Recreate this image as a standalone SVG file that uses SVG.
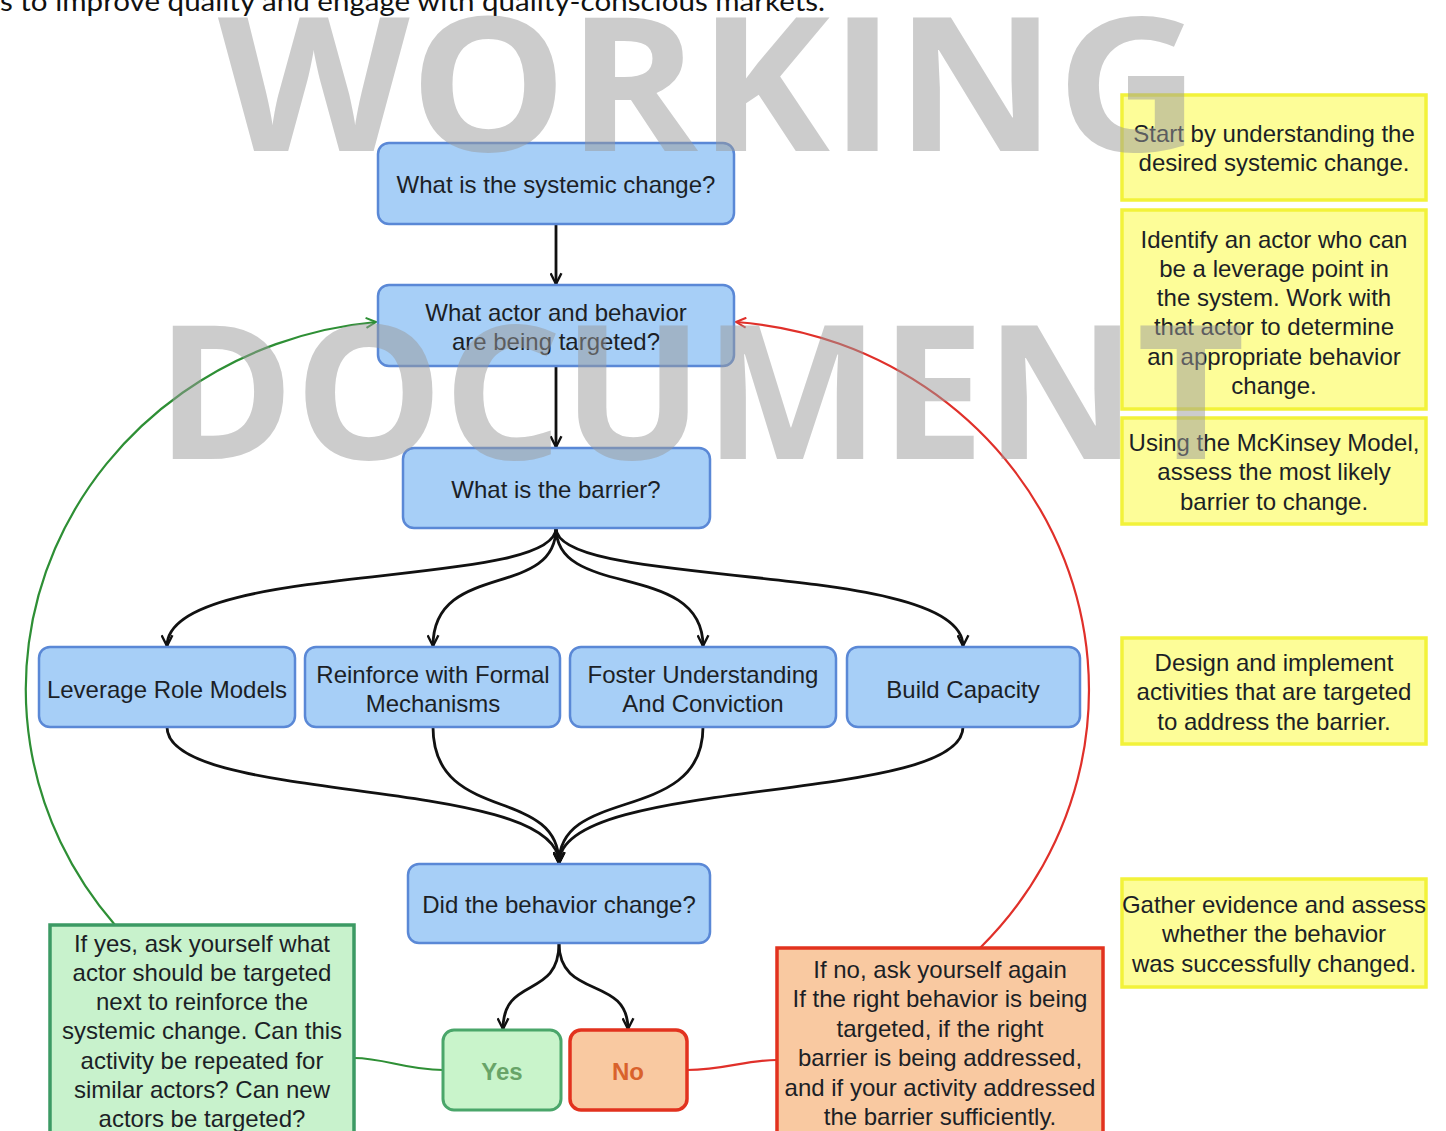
<svg xmlns="http://www.w3.org/2000/svg" width="1446" height="1131" viewBox="0 0 1446 1131">
  <style>
    .t { font-family: "Liberation Sans", Arial, sans-serif; font-size: 24px; fill: #1c1f26; text-anchor: middle; }
    .blue { fill: #a7cff7; stroke: #5a88d6; stroke-width: 2.5; }
    .note { fill: #fdfd98; stroke: #f2f23a; stroke-width: 3.5; }
    .gnote { fill: #c8f2cc; stroke: #3c9a64; stroke-width: 3.5; }
    .rnote { fill: #f9c9a1; stroke: #e2321e; stroke-width: 3.5; }
    .edge { fill: none; stroke: #111; stroke-width: 2.8; }
    .green { fill: none; stroke: #2e8f35; stroke-width: 2.2; }
    .red { fill: none; stroke: #e0302a; stroke-width: 2.2; }
    .wm { font-family: "Open Sans", "DejaVu Sans", sans-serif; font-weight: 700; font-size: 186px; fill: #999; fill-opacity: 0.5; }
  </style>
  <defs>
    <marker id="arr" viewBox="0 0 12 12" refX="11" refY="6" markerWidth="13" markerHeight="13" markerUnits="userSpaceOnUse" orient="auto">
      <path d="M1,1 L11,6 L1,11" fill="none" stroke="#111" stroke-width="2.2"/>
    </marker>
    <marker id="arrG" viewBox="0 0 12 12" refX="11" refY="6" markerWidth="12" markerHeight="12" markerUnits="userSpaceOnUse" orient="auto">
      <path d="M1,1 L11,6 L1,11" fill="none" stroke="#2e8f35" stroke-width="2"/>
    </marker>
    <marker id="arrR" viewBox="0 0 12 12" refX="11" refY="6" markerWidth="12" markerHeight="12" markerUnits="userSpaceOnUse" orient="auto">
      <path d="M1,1 L11,6 L1,11" fill="none" stroke="#e0302a" stroke-width="2"/>
    </marker>
  </defs>

  <rect width="1446" height="1131" fill="#fff"/>

  <!-- running text of the page above the chart -->
  <text x="0" y="11" font-family="Lato, 'Open Sans', sans-serif" font-size="27" fill="#111" textLength="825" lengthAdjust="spacingAndGlyphs">s to improve quality and engage with quality-conscious markets.</text>

  <g id="connectors">
    <path class="edge" d="M556,224 L556,284" marker-end="url(#arr)"/>
    <path class="edge" d="M556,366 L556,447" marker-end="url(#arr)"/>
    <path class="edge" d="M556,528 C556,590 167,560 167,646" marker-end="url(#arr)"/>
    <path class="edge" d="M556,528 C556,600 433,560 433,646" marker-end="url(#arr)"/>
    <path class="edge" d="M556,528 C556,600 703,560 703,646" marker-end="url(#arr)"/>
    <path class="edge" d="M556,528 C556,590 963,560 963,646" marker-end="url(#arr)"/>
    <path class="edge" d="M167,727 C167,805 559,775 559,863" marker-end="url(#arr)"/>
    <path class="edge" d="M433,727 C433,825 559,785 559,863" marker-end="url(#arr)"/>
    <path class="edge" d="M703,727 C703,825 559,785 559,863" marker-end="url(#arr)"/>
    <path class="edge" d="M963,727 C963,805 559,775 559,863" marker-end="url(#arr)"/>
    <path class="edge" d="M559,943 C559,1000 503,975 503,1029" marker-end="url(#arr)"/>
    <path class="edge" d="M559,943 C559,1000 628,975 628,1029" marker-end="url(#arr)"/>
    <!-- yes: back to choosing the next actor -->
    <path class="green" d="M443,1070 C405,1070 385,1058 354,1058"/>
    <path class="green" d="M115,925 A387,369 0 0 1 376,322" marker-end="url(#arrG)"/>
    <!-- no: revisit actor, behavior and barrier -->
    <path class="red" d="M687,1070 C725,1070 745,1060 777,1060"/>
    <path class="red" d="M980,948 A382,369 0 0 0 736,322" marker-end="url(#arrR)"/>
  </g>

  <g id="n-systemic">
    <rect class="blue" x="378" y="143" width="356" height="81" rx="11"/>
    <text class="t" x="556" y="193">What is the systemic change?</text>
  </g>
  <g id="n-actor">
    <rect class="blue" x="378" y="285" width="356" height="81" rx="11"/>
    <text class="t" x="556" y="321">What actor and behavior</text>
    <text class="t" x="556" y="350">are being targeted?</text>
  </g>
  <g id="n-barrier">
    <rect class="blue" x="403" y="448" width="307" height="80" rx="11"/>
    <text class="t" x="556" y="498">What is the barrier?</text>
  </g>
  <g id="n-role-models">
    <rect class="blue" x="39" y="647" width="256" height="80" rx="11"/>
    <text class="t" x="167" y="698">Leverage Role Models</text>
  </g>
  <g id="n-formal">
    <rect class="blue" x="305" y="647" width="255" height="80" rx="11"/>
    <text class="t" x="433" y="683">Reinforce with Formal</text>
    <text class="t" x="433" y="712">Mechanisms</text>
  </g>
  <g id="n-conviction">
    <rect class="blue" x="570" y="647" width="266" height="80" rx="11"/>
    <text class="t" x="703" y="683">Foster Understanding</text>
    <text class="t" x="703" y="712">And Conviction</text>
  </g>
  <g id="n-capacity">
    <rect class="blue" x="847" y="647" width="233" height="80" rx="11"/>
    <text class="t" x="963" y="698">Build Capacity</text>
  </g>
  <g id="n-changed">
    <rect class="blue" x="408" y="864" width="302" height="79" rx="11"/>
    <text class="t" x="559" y="913">Did the behavior change?</text>
  </g>
  <g id="n-yes">
    <rect x="443" y="1030" width="118" height="80" rx="11" fill="#c9f4cb" stroke="#4aa66a" stroke-width="3"/>
    <text class="t" x="502" y="1080" font-weight="700" style="fill:#68a468">Yes</text>
  </g>
  <g id="n-no">
    <rect x="570" y="1030" width="117" height="80" rx="11" fill="#f9c9a1" stroke="#e2321e" stroke-width="3.5"/>
    <text class="t" x="628" y="1080" font-weight="700" style="fill:#d9622c">No</text>
  </g>
  <g id="n-yes-note">
    <rect class="gnote" x="50" y="925" width="304" height="210"/>
    <text class="t" x="202" y="952">If yes, ask yourself what</text>
    <text class="t" x="202" y="981">actor should be targeted</text>
    <text class="t" x="202" y="1010">next to reinforce the</text>
    <text class="t" x="202" y="1039">systemic change. Can this</text>
    <text class="t" x="202" y="1069">activity be repeated for</text>
    <text class="t" x="202" y="1098">similar actors? Can new</text>
    <text class="t" x="202" y="1127">actors be targeted?</text>
  </g>
  <g id="n-no-note">
    <rect class="rnote" x="777" y="948" width="326" height="187"/>
    <text class="t" x="940" y="978">If no, ask yourself again</text>
    <text class="t" x="940" y="1007">If the right behavior is being</text>
    <text class="t" x="940" y="1037">targeted, if the right</text>
    <text class="t" x="940" y="1066">barrier is being addressed,</text>
    <text class="t" x="940" y="1096">and if your activity addressed</text>
    <text class="t" x="940" y="1125">the barrier sufficiently.</text>
  </g>

  <g id="g-step1">
    <rect class="note" x="1122" y="95" width="304" height="105"/>
    <text class="t" x="1274" y="142">Start by understanding the</text>
    <text class="t" x="1274" y="171">desired systemic change.</text>
  </g>
  <g id="g-step2">
    <rect class="note" x="1122" y="210" width="304" height="199"/>
    <text class="t" x="1274" y="248">Identify an actor who can</text>
    <text class="t" x="1274" y="277">be a leverage point in</text>
    <text class="t" x="1274" y="306">the system. Work with</text>
    <text class="t" x="1274" y="335">that actor to determine</text>
    <text class="t" x="1274" y="365">an appropriate behavior</text>
    <text class="t" x="1274" y="394">change.</text>
  </g>
  <g id="g-step3">
    <rect class="note" x="1122" y="418" width="304" height="106"/>
    <text class="t" x="1274" y="451">Using the McKinsey Model,</text>
    <text class="t" x="1274" y="480">assess the most likely</text>
    <text class="t" x="1274" y="510">barrier to change.</text>
  </g>
  <g id="g-step4">
    <rect class="note" x="1122" y="638" width="304" height="106"/>
    <text class="t" x="1274" y="671">Design and implement</text>
    <text class="t" x="1274" y="700">activities that are targeted</text>
    <text class="t" x="1274" y="730">to address the barrier.</text>
  </g>
  <g id="g-step5">
    <rect class="note" x="1122" y="879" width="304" height="108"/>
    <text class="t" x="1274" y="913">Gather evidence and assess</text>
    <text class="t" x="1274" y="942">whether the behavior</text>
    <text class="t" x="1274" y="972">was successfully changed.</text>
  </g>

  <!-- draft stamp across the page -->
  <g id="stamp">
    <text class="wm" x="218" y="151" textLength="982" lengthAdjust="spacingAndGlyphs">WORKING</text>
    <text class="wm" x="156" y="459" textLength="1089" lengthAdjust="spacingAndGlyphs">DOCUMENT</text>
  </g>
</svg>
